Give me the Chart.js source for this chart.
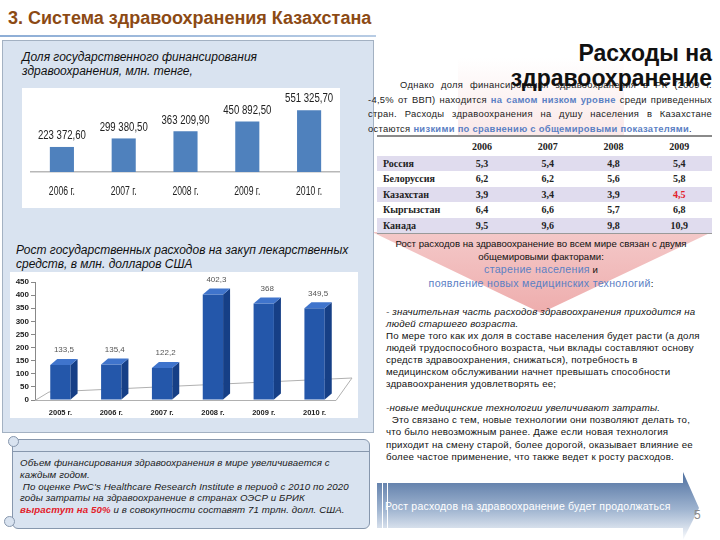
<!DOCTYPE html>
<html>
<head>
<meta charset="utf-8">
<script src="https://cdn.jsdelivr.net/npm/chart.js@4.4.0/dist/chart.umd.min.js"></script>
<style>
  body { margin: 0; width: 720px; height: 540px; overflow: hidden; background: #fff; position: relative; font-family: "Liberation Sans", Arial, sans-serif; }
  .abs { position: absolute; }
  #title { left: 8px; top: 8px; font-size: 18px; font-weight: bold; color: #8c4a14; white-space: nowrap; }
  #hline { left: 0; top: 35px; width: 376px; height: 2px; background: linear-gradient(to right, #8eaed6, #b8cce4); }
  #panel { left: 2px; top: 40px; width: 370px; height: 391px; background: #d9e3f0; border: 1px solid #a3b1c2; }
  .ptitle { font-style: italic; font-size: 12px; color: #111; line-height: 14px; white-space: nowrap; }
  #c1box { left: 22px; top: 88px; width: 318px; height: 120px; background: #fff; }
  #c2box { left: 10px; top: 272px; width: 348px; height: 146px; background: #fff; }
  #scroll { left: 12px; top: 439px; width: 356px; height: 88px; background: #d9e3f0; border: 1px solid #8797ad; border-radius: 6px; }
  #scrollTop { left: 12px; top: 451px; width: 357px; height: 1px; background: #8797ad; }
  .curl { width: 9px; height: 9px; border: 1px solid #8797ad; border-radius: 50%; background: #d9e3f0; }
  #stext { left: 20px; top: 457px; font-style: italic; font-size: 9.7px; line-height: 11.8px; color: #1a1a1a; white-space: nowrap; letter-spacing: 0.1px; }
  .red { color: #e3202a; font-weight: bold; }
  #rtitle { right: 8px; top: 41px; text-align: right; font-size: 23px; font-weight: bold; line-height: 25px; color: #111; z-index: 3; }
  #para { left: 368px; top: 78px; width: 344px; font-size: 9.4px; line-height: 14.5px; color: #222; z-index: 2; letter-spacing: 0.3px; }
  #para div { text-align: justify; text-align-last: justify; white-space: nowrap; }
  #para div.last { text-align-last: left; }
  .blue { color: #5b80c4; font-weight: bold; }
  #tbl { left: 377px; top: 135px; width: 335px; border-collapse: collapse; font-family: "Liberation Serif", "Times New Roman", serif; font-weight: bold; font-size: 10px; color: #222; z-index: 2; }
  #tbl td, #tbl th { padding: 0; text-align: center; }
  #tbl th { height: 18px; border-top: 2px solid #8a8a8a; background: #fff; }
  #tbl td { height: 14.5px; border-top: 1px solid #fff; }
  #tbl td.n { text-align: left; padding-left: 6px; }
  #tbl tr.sh td { background: #e0dcee; }
  #tbl tr.wh td { background: #fff; }
  #tbl tr:last-child td { border-bottom: 1px solid #9a9a9a; }
  #center { left: 370px; top: 238px; width: 342px; text-align: center; font-size: 9.6px; line-height: 12.7px; color: #111; z-index: 2; }
  #center .b { color: #5b80c4; font-size: 10.6px; line-height: 13.8px; letter-spacing: 0.3px; }
  #bullets { left: 386px; top: 306px; font-size: 9.7px; line-height: 12.05px; color: #111; white-space: nowrap; z-index: 2; letter-spacing: 0.2px; }
  #bullets i { font-style: italic; }
  #btext { left: 385px; top: 500px; color: #fff; font-size: 10.5px; white-space: nowrap; letter-spacing: 0.2px; }
  #pnum { left: 694px; top: 508px; color: #8a8a8a; font-size: 12px; }
</style>
</head>
<body>
<script>
// ----- data -----
const fundYears = ['2006 г.', '2007 г.', '2008 г.', '2009 г.', '2010 г.'];
const fundValues = [223372.60, 299380.50, 363209.90, 450892.50, 551325.70];

const drugYears = ['2005 г.', '2006 г.', '2007 г.', '2008 г.', '2009 г.', '2010 г.'];
const drugValues = [133.5, 135.4, 122.2, 402.3, 368, 349.5];
const drugTicks = [0, 50, 100, 150, 200, 250, 300, 350, 400, 450];

const tableYears = ['2006', '2007', '2008', '2009'];
const tableCountries = ['Россия', 'Белоруссия', 'Казахстан', 'Кыргызстан', 'Канада'];
const tableShares = [
  ['5,3', '5,4', '4,8', '5,4'],
  ['6,2', '6,2', '5,6', '5,8'],
  ['3,9', '3,4', '3,9', '4,5'],
  ['6,4', '6,6', '5,7', '6,8'],
  ['9,5', '9,6', '9,8', '10,9']
];
</script>

<!-- background shapes -->
<svg class="abs" style="left:0;top:0;z-index:0" width="720" height="540">
  <defs>
    <linearGradient id="pink" x1="0" y1="0" x2="0" y2="1">
      <stop offset="0" stop-color="#fff"/>
      <stop offset="0.45" stop-color="#f8dddd"/>
      <stop offset="1" stop-color="#eeadad"/>
    </linearGradient>
    <linearGradient id="bann" x1="0" y1="0" x2="0" y2="1">
      <stop offset="0" stop-color="#4e6f9f"/>
      <stop offset="0.55" stop-color="#9fb4d0"/>
      <stop offset="1" stop-color="#fbfcfe"/>
    </linearGradient>
  </defs>
  <polygon points="458,58 624,58 624,232 712,232 541,313 372,232 458,232" fill="url(#pink)"/>
  <polygon points="377,483 683,483 683,472 699,508 683,540 683,528 377,528" fill="url(#bann)"/>
  <line x1="382.5" y1="483" x2="382.5" y2="528" stroke="#fff" stroke-width="1"/>
  <line x1="387.5" y1="483" x2="387.5" y2="528" stroke="#fff" stroke-width="1"/>
</svg>

<div id="title" class="abs">3. Система здравоохранения Казахстана</div>
<div id="hline" class="abs"></div>

<div id="panel" class="abs"></div>
<div class="abs ptitle" style="left:22px;top:50px;">Доля государственного финансирования<br>здравоохранения, млн. тенге,</div>
<div id="c1box" class="abs"><canvas id="c1" width="318" height="120"></canvas></div>
<div class="abs ptitle" style="left:16px;top:243px;">Рост государственных расходов на закуп лекарственных<br>средств, в млн. долларов США</div>
<div id="c2box" class="abs"><canvas id="c2" width="348" height="146"></canvas></div>

<div id="scroll" class="abs"></div>
<div id="scrollTop" class="abs"></div>
<div class="abs curl" style="left:8px;top:436px;"></div>
<div class="abs curl" style="left:4px;top:516px;"></div>
<div id="stext" class="abs">
  Объем финансирования здравоохранения в мире увеличивается с<br>
  каждым годом.<br>
  &nbsp;По оценке PwC's Healthcare Research Institute в период с 2010 по 2020<br>
  годы затраты на здравоохранение в странах ОЭСР и БРИК<br>
  <span class="red">вырастут на 50%</span> и в совокупности составят 71 трлн. долл. США.
</div>

<div id="rtitle" class="abs">Расходы на<br>здравоохранение</div>
<div id="para" class="abs">
  <div style="padding-left:32px">Однако доля финансирования здравоохранения в РК (2009 г.</div>
  <div>-4,5% от ВВП) находится <span class="blue">на самом низком уровне</span> среди приведенных</div>
  <div>стран. Расходы здравоохранения на душу населения в Казахстане</div>
  <div class="last">остаются <span class="blue">низкими по сравнению с общемировыми показателями</span>.</div>
</div>

<table id="tbl" class="abs"></table>

<div id="center" class="abs">
  Рост расходов на здравоохранение во всем мире связан с двумя<br>
  общемировыми факторами:<br>
  <span class="b">старение населения</span> и<br>
  <span class="b">появление новых медицинских технологий</span>:
</div>

<div id="bullets" class="abs">
  <i>- значительная часть расходов здравоохранения приходится на</i><br>
  <i>людей старшего возраста.</i><br>
  По мере того как их доля в составе населения будет расти (а доля<br>
  людей трудоспособного возраста, чьи вклады составляют основу<br>
  средств здравоохранения, снижаться), потребность в<br>
  медицинском обслуживании начнет превышать способности<br>
  здравоохранения удовлетворять ее;<br>
  <br>
  <i>-новые медицинские технологии увеличивают затраты.</i><br>
  &nbsp;&nbsp;Это связано с тем, новые технологии они позволяют делать то,<br>
  что было невозможным ранее. Даже если новая технология<br>
  приходит на смену старой, более дорогой, оказывает влияние ее<br>
  более частое применение, что также ведет к росту расходов.
</div>

<div id="btext" class="abs">Рост расходов на здравоохранение будет продолжаться</div>
<div id="pnum" class="abs">5</div>

<script>
// table
const tbl = document.getElementById('tbl');
let html = '<tr><th style="width:72px"></th>' + tableYears.map(y => '<th>' + y + '</th>').join('') + '</tr>';
tableCountries.forEach((c, i) => {
  html += '<tr class="' + (i % 2 === 0 ? 'sh' : 'wh') + '"><td class="n">' + c + '</td>' +
    tableShares[i].map((v, j) => {
      const red = (c === 'Казахстан' && j === 3) ? ' style="color:#e3202a"' : '';
      return '<td' + red + '>' + v + '</td>';
    }).join('') + '</tr>';
});
tbl.innerHTML = html;

function fmtRu(v, dec) {
  const s = v.toFixed(dec).split('.');
  const int = s[0].replace(/\B(?=(\d{3})+(?!\d))/g, ' ');
  return dec ? int + ',' + s[1] : int;
}

// narrow text: squeeze regular font horizontally
function narrowText(ctx, txt, x, y, sx) {
  ctx.save();
  ctx.translate(x, y);
  ctx.scale(sx, 1);
  ctx.fillText(txt, 0, 0);
  ctx.restore();
}

// chart 1: state funding
const labels1 = {
  id: 'labels1',
  afterDatasetsDraw(chart) {
    const ctx = chart.ctx;
    const xs = chart.scales.x;
    ctx.save();
    ctx.font = '12px "Liberation Sans", Arial, sans-serif';
    ctx.fillStyle = '#222';
    ctx.textAlign = 'center';
    ctx.textBaseline = 'bottom';
    chart.getDatasetMeta(0).data.forEach((bar, i) => {
      narrowText(ctx, fmtRu(fundValues[i], 2), bar.x, bar.y - 5, 0.8);
    });
    ctx.textBaseline = 'middle';
    fundYears.forEach((lab, i) => {
      narrowText(ctx, lab, xs.getPixelForTick(i), xs.bottom - 16, 0.72);
    });
    ctx.restore();
  }
};

new Chart(document.getElementById('c1'), {
  type: 'bar',
  data: {
    labels: fundYears,
    datasets: [{ data: fundValues, backgroundColor: '#4f81bd', barPercentage: 0.78, categoryPercentage: 0.5 }]
  },
  options: {
    responsive: false,
    animation: false,
    layout: { padding: { left: 9, right: 0, top: 10, bottom: 0 } },
    plugins: { legend: { display: false }, tooltip: { enabled: false } },
    scales: {
      x: {
        grid: { display: false, drawTicks: false },
        border: { display: true, color: '#b8b8b8', width: 1.5 },
        ticks: { display: false },
        afterFit: s => { s.height = 36; }
      },
      y: { display: false, min: 0, max: 660000 }
    }
  },
  plugins: [labels1]
});

// chart 2: drug procurement, pseudo-3D bars
const DX = 7, DY = 6;
const bars3d = {
  id: 'bars3d',
  beforeDatasetsDraw(chart) {
    const { ctx, chartArea: a } = chart;
    ctx.save();
    ctx.strokeStyle = '#b0b0b0';
    ctx.lineWidth = 1;
    ctx.beginPath();
    ctx.moveTo(a.left, a.bottom + 0.5);
    ctx.lineTo(a.right - 4, a.bottom + 0.5);
    ctx.lineTo(a.right + 12, a.bottom - 22);
    ctx.lineTo(a.left + 14, a.bottom - 8);
    ctx.lineTo(a.left, a.bottom + 0.5);
    ctx.stroke();
    ctx.restore();
  },
  afterDatasetsDraw(chart) {
    const ctx = chart.ctx;
    ctx.save();
    chart.getDatasetMeta(0).data.forEach((bar, i) => {
      const l = bar.x - bar.width / 2, r = bar.x + bar.width / 2, t = bar.y, b = bar.base;
      // side face
      ctx.fillStyle = '#163f86';
      ctx.beginPath();
      ctx.moveTo(r, t); ctx.lineTo(r + DX, t - DY); ctx.lineTo(r + DX, b - DY); ctx.lineTo(r, b);
      ctx.closePath(); ctx.fill();
      // top face
      ctx.fillStyle = '#3f74cc';
      ctx.beginPath();
      ctx.moveTo(l, t); ctx.lineTo(l + DX, t - DY); ctx.lineTo(r + DX, t - DY); ctx.lineTo(r, t);
      ctx.closePath(); ctx.fill();
      // value label
      ctx.fillStyle = '#555';
      ctx.font = '8px "Liberation Sans", Arial, sans-serif';
      ctx.textAlign = 'center';
      ctx.textBaseline = 'bottom';
      ctx.fillText(fmtRu(drugValues[i], drugValues[i] % 1 ? 1 : 0), bar.x + DX / 2, t - DY - 5);
    });
    ctx.restore();
  }
};

new Chart(document.getElementById('c2'), {
  type: 'bar',
  data: {
    labels: drugYears,
    datasets: [{
      data: drugValues,
      backgroundColor: ctx => {
        const el = ctx.element;
        if (!el || !isFinite(el.x)) return '#2457aa';
        const g = ctx.chart.ctx.createLinearGradient(el.x - el.width / 2, 0, el.x + el.width / 2, 0);
        g.addColorStop(0, '#1f50a3');
        g.addColorStop(0.5, '#3a6fc6');
        g.addColorStop(1, '#1f4f9f');
        return g;
      },
      barPercentage: 0.8,
      categoryPercentage: 0.5
    }]
  },
  options: {
    responsive: false,
    animation: false,
    layout: { padding: { left: 0, right: 18, top: 10, bottom: 0 } },
    plugins: { legend: { display: false }, tooltip: { enabled: false } },
    scales: {
      x: {
        grid: { display: false, drawTicks: false },
        border: { display: false },
        ticks: { color: '#222', padding: 8, font: { size: 7.5, weight: 'bold' } },
        afterFit: s => { s.height = 18; }
      },
      y: {
        min: 0, max: 450,
        afterBuildTicks: s => { s.ticks = drugTicks.map(v => ({ value: v })); },
        grid: { drawOnChartArea: false, tickLength: 4, color: '#888' },
        border: { color: '#888' },
        ticks: { color: '#222', padding: 2, font: { size: 8, weight: 'bold' } },
        afterFit: s => { s.width = 25; }
      }
    }
  },
  plugins: [bars3d]
});
</script>
</body>
</html>
